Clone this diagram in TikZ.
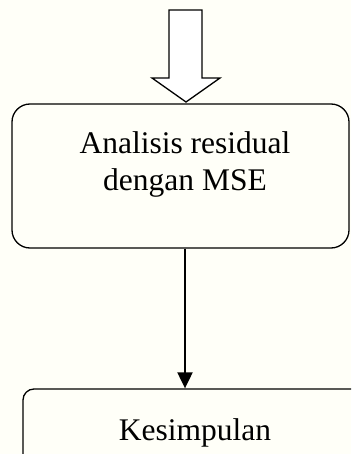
\documentclass[tikz,border=0pt]{standalone}
\usepackage{fontspec}
\setmainfont{Liberation Serif}
\usetikzlibrary{arrows.meta}
\definecolor{bgcream}{HTML}{FFFFF8}
\tikzset{
  boxa/.style={draw=black, line width=1.3pt, rounded corners=18pt, minimum width=337pt, minimum height=144pt, inner sep=0pt},
  boxb/.style={draw=black, line width=1.3pt, rounded corners=11pt, minimum width=342pt, minimum height=90pt, inner sep=0pt},
  txt/.style={inner sep=0pt, align=center, font=\fontsize{31.5pt}{37pt}\selectfont},
  conn/.style={line width=2pt, -{Triangle[width=15pt,length=16pt]}},
  blockarrow/.style={draw=black, line width=1.3pt, fill=white, line join=miter}
}
\begin{document}
\begin{tikzpicture}[x=1pt,y=-1pt]
  \fill[bgcream] (0,0) rectangle (351,454);
  \useasboundingbox (0,0) rectangle (351,454);
  \clip (0,0) rectangle (351,454);
  % block arrow at top
  \draw[blockarrow] (169,10) -- (202,10) -- (202,78) -- (220,78) -- (186,102) -- (152,78) -- (169,78) -- cycle;
  % boxes
  \node[boxa] (b1) at (180.5,176) {};
  \node[txt] (t1) at (185,164) {Analisis residual\\dengan MSE};
  \node[boxb] (b2) at (194,434) {};
  \node[txt, anchor=base] (t2) at (195,440) {Kesimpulan};
  % connector
  \draw[conn] (t1 |- b1.south) -- (t1 |- b2.north);
\end{tikzpicture}
\end{document}
